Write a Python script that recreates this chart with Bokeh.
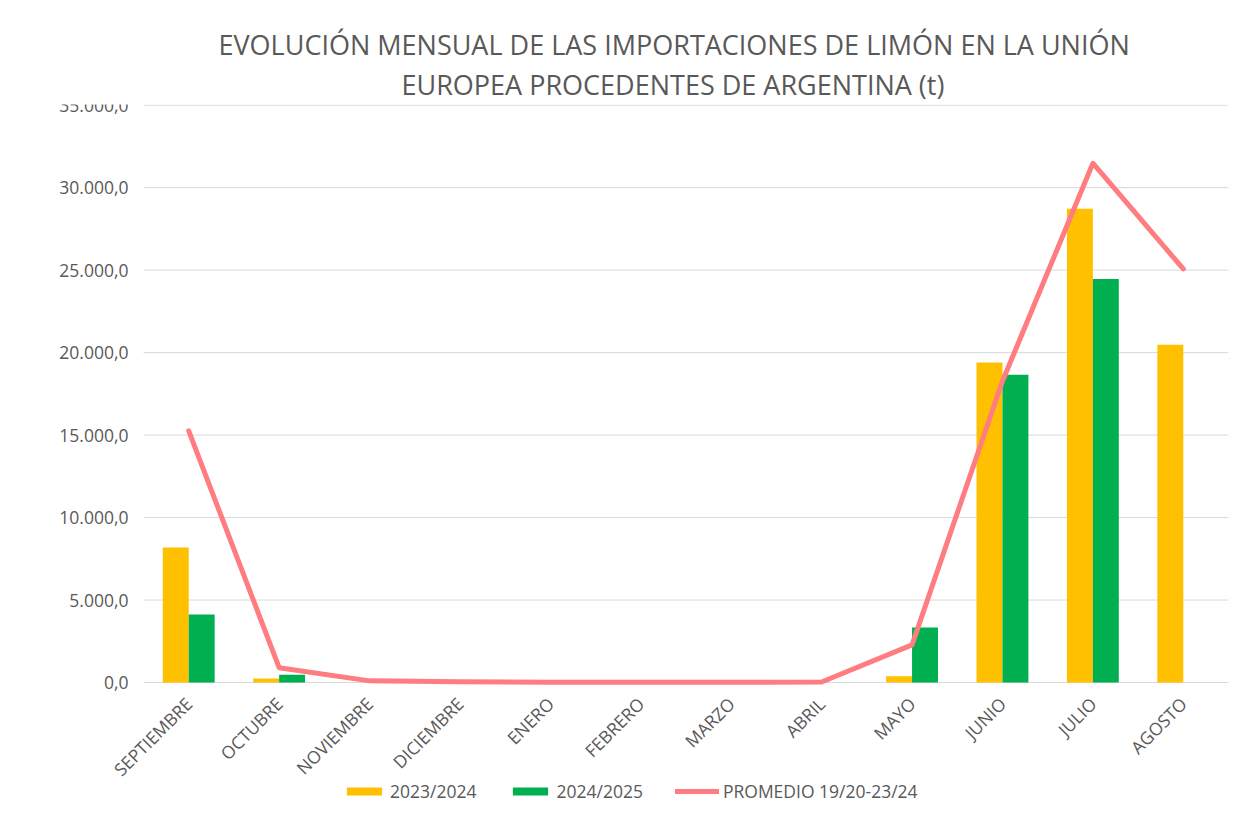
from bokeh.plotting import figure
from bokeh.models import (ColumnDataSource, Range1d, Legend, LegendItem,
                          Title, FixedTicker)
from bokeh.transform import dodge
from bokeh.core.properties import value
from bokeh.embed import file_html
from bokeh.resources import INLINE

months = ["SEPTIEMBRE", "OCTUBRE", "NOVIEMBRE", "DICIEMBRE", "ENERO", "FEBRERO",
          "MARZO", "ABRIL", "MAYO", "JUNIO", "JULIO", "AGOSTO"]
s2023_2024 = [8190, 240, 0, 0, 0, 0, 0, 0, 380, 19400, 28720, 20470]
s2024_2025 = [4120, 470, 0, 0, 0, 0, 0, 0, 3340, 18650, 24460, 0]
promedio = [15250, 900, 100, 40, 20, 15, 15, 30, 2280, 18260, 31480, 25070]

y_ticks = [0, 5000, 10000, 15000, 20000, 25000, 30000, 35000]
y_tick_labels = ["0,0", "5.000,0", "10.000,0", "15.000,0", "20.000,0",
                 "25.000,0", "30.000,0", "35.000,0"]

title_lines = ["EVOLUCIÓN MENSUAL DE LAS IMPORTACIONES DE LIMÓN EN LA UNIÓN",
               "EUROPEA PROCEDENTES DE ARGENTINA (t)"]
series_names = ["2023/2024", "2024/2025", "PROMEDIO 19/20-23/24"]

FONT = "Open Sans"
TXT = "#595959"
GRID = "#d9d9d9"
C_A, C_B, C_AVG = "#FFC000", "#00B050", "#FF7C80"

# month positions 1..12 on a numeric x scale
xs = list(range(1, len(months) + 1))
PX_PER_MONTH = 1085 / 12
X_START = 0.5 - 103 / PX_PER_MONTH          # room on the left for the value labels
Y_TOP = 35040
Y_BOTTOM = -130 * Y_TOP / 578               # room below zero for month labels + legend

src = ColumnDataSource(dict(x=xs, a=s2023_2024, b=s2024_2025, avg=promedio))

p = figure(frame_width=1188, frame_height=708,
           x_range=Range1d(X_START, len(months) + 0.5),
           y_range=Range1d(Y_BOTTOM, Y_TOP), y_axis_location=None,
           output_backend="svg", toolbar_location=None,
           min_border_left=40, min_border_right=17, min_border_top=104,
           min_border_bottom=0)
p.outline_line_color = None
p.background_fill_color = "white"
p.border_fill_color = "white"
p.grid.visible = False

# horizontal gridlines over the plot area only
p.segment(x0=0.5, x1=len(months) + 0.5, y0=y_ticks, y1=y_ticks,
          line_color=GRID, line_width=1)

# value labels
p.text(x=0.5 - 15 / PX_PER_MONTH, y=y_ticks, text=y_tick_labels,
       text_align="right", text_baseline="middle", text_font=value(FONT),
       text_font_size=value("17.5px"), text_color=TXT)

bw = 0.287
r1 = p.vbar(x=dodge("x", -bw / 2), top="a", width=bw, source=src,
            fill_color=C_A, line_color=None)
r2 = p.vbar(x=dodge("x", bw / 2), top="b", width=bw, source=src,
            fill_color=C_B, line_color=None)
r3 = p.line(x="x", y="avg", source=src, line_color=C_AVG, line_width=5,
            line_cap="round", line_join="round")

# month axis, crossing at zero
p.xaxis.fixed_location = 0
p.xaxis.ticker = FixedTicker(ticks=xs)
p.xaxis.major_label_overrides = {x: m for x, m in zip(xs, months)}
p.xaxis.axis_line_color = None
p.xaxis.major_tick_line_color = None
p.xaxis.minor_tick_line_color = None
p.xaxis.major_label_orientation = 0.785398
p.xaxis.major_label_text_font = FONT
p.xaxis.major_label_text_font_size = "17.5px"
p.xaxis.major_label_text_color = TXT
p.xaxis.major_label_standoff = 12

# title: second line added first (closest to the frame)
p.add_layout(Title(text=title_lines[1], align="left", text_font=FONT,
                   text_font_size="27px", text_font_style="normal",
                   text_color=TXT, standoff=3, offset=361), "above")
p.add_layout(Title(text=title_lines[0], align="left", text_font=FONT,
                   text_font_size="27px", text_font_style="normal",
                   text_color=TXT, standoff=0, offset=178), "above")

legend = Legend(items=[LegendItem(label=series_names[0], renderers=[r1]),
                       LegendItem(label=series_names[1], renderers=[r2]),
                       LegendItem(label=series_names[2], renderers=[r3])],
                orientation="horizontal", location=(302, 9),
                glyph_width=44, glyph_height=10, label_standoff=4, spacing=32,
                border_line_color=None, background_fill_alpha=0,
                label_text_font=FONT, label_text_font_size="17.5px",
                label_text_color=TXT, padding=0, margin=0)
p.add_layout(legend)

open("out.html", "w").write(file_html(p, INLINE))
